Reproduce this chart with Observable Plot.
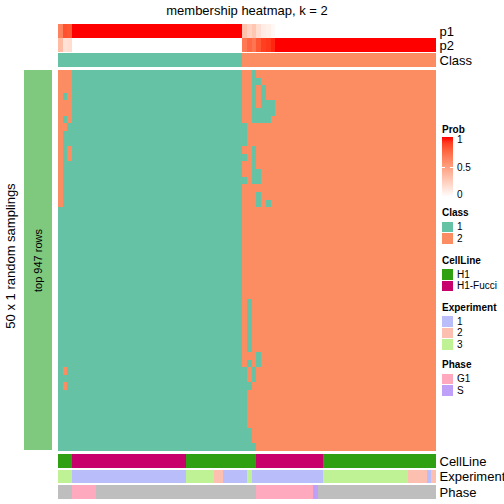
<!DOCTYPE html>
<html><head><meta charset="utf-8">
<script src="https://cdn.jsdelivr.net/npm/d3@7"></script>
<script src="https://cdn.jsdelivr.net/npm/@observablehq/plot@0.6"></script>
<style>
body{margin:0;background:#fff;}
#root{position:relative;width:504px;height:504px;overflow:hidden;font-family:"Liberation Sans",Arial,Helvetica,sans-serif;color:#000;}
.abs{position:absolute;}
.abs svg{display:block;}
</style></head><body><div id="root"></div>
<script>
// ---------------- data ----------------
const titleText = "membership heatmap, k = 2";
const rowTitle = "50 x 1 random samplings";
const rowAnnoLabel = "top 947 rows";

const classNames = ["1", "2"];
const classColors = ["#66C2A5", "#FC8D62"];
const classRuns = [["1", 39], ["2", 41]];

// membership probabilities per column (80 columns)
const p1 = [0.64, 0.84, 0.82,
  1,1,1,1,1,1,1,1,1,1, 1,1,1,1,1,1,1,1,1,1, 1,1,1,1,1,1,1,1,1,1, 1,1,1,1,1,1,
  0.32, 0.24, 0.30, 0.18, 0.10, 0.08, 0.04,
  0,0,0,0,0,0,0,0,0,0, 0,0,0,0,0,0,0,0,0,0, 0,0,0,0,0,0,0,0,0,0, 0,0,0,0];
const p2 = [0.36, 0.16, 0.18,
  0,0,0,0,0,0,0,0,0,0, 0,0,0,0,0,0,0,0,0,0, 0,0,0,0,0,0,0,0,0,0, 0,0,0,0,0,0,
  0.68, 0.76, 0.70, 0.82, 0.90, 0.92, 0.96,
  1,1,1,1,1,1,1,1,1,1, 1,1,1,1,1,1,1,1,1,1, 1,1,1,1,1,1,1,1,1,1, 1,1,1,1];

// class assignment of each column in each of the 50 samplings
const L = "111111111111111111111111111111111111";   // columns 3-38
const R = "2222222222222222222222222222222222";     // columns 46-79
const mainRows = [
  "222"+L+"2212222"+R, "222"+L+"2211222"+R, "222"+L+"2212122"+R, "212"+L+"2212122"+R,
  "222"+L+"2212111"+R, "222"+L+"2211111"+R, "212"+L+"2211112"+R, "221"+L+"1222222"+R,
  "211"+L+"1222222"+R, "211"+L+"1222222"+R, "212"+L+"2212222"+R, "212"+L+"1212222"+R,
  "211"+L+"2212222"+R, "211"+L+"2211222"+R, "211"+L+"1211222"+R, "211"+L+"2222222"+R,
  "211"+L+"2221222"+R, "211"+L+"2221212"+R,
  "111"+L+"2222222"+R, "111"+L+"2222222"+R, "111"+L+"2222222"+R, "111"+L+"2222222"+R,
  "111"+L+"2222222"+R, "111"+L+"2222222"+R, "111"+L+"2222222"+R, "111"+L+"2222222"+R,
  "111"+L+"2222222"+R, "111"+L+"2222222"+R, "111"+L+"2222222"+R, "111"+L+"2222222"+R,
  "111"+L+"2122222"+R, "111"+L+"2122222"+R, "111"+L+"2122222"+R, "111"+L+"2122222"+R,
  "111"+L+"2122222"+R, "111"+L+"2122222"+R, "111"+L+"2122222"+R,
  "111"+L+"2221222"+R, "111"+L+"2121222"+R, "121"+L+"1212222"+R, "111"+L+"1212222"+R,
  "121"+L+"1122222"+R,
  "111"+L+"1222222"+R, "111"+L+"1222222"+R, "111"+L+"1222222"+R, "111"+L+"1222222"+R,
  "111"+L+"1222222"+R,
  "111"+L+"1122222"+R, "111"+L+"1122222"+R, "111"+L+"1112222"+R
];

const cellLineNames = ["H1", "H1-Fucci"];
const cellLineColors = ["#2FA012", "#C7006B"];
const cellLineRuns = [["H1", 3], ["H1-Fucci", 24], ["H1", 15], ["H1-Fucci", 14], ["H1", 24]];

const experimentNames = ["1", "2", "3"];
const experimentColors = ["#B9BDF9", "#FDBFB0", "#BEF294"];
const experimentRuns = [["3", 3], ["1", 24], ["3", 6], ["2", 2], ["1", 5], ["3", 1], ["1", 15], ["3", 18], ["2", 4], ["1", 1], ["2", 1]];

const phaseNames = ["G1", "S"];
const phaseColors = ["#FFA9BF", "#BEA0F8"];
const naColor = "#BEBEBE";
const phaseRuns = [[null, 3], ["G1", 5], [null, 34], ["G1", 12], ["S", 1], [null, 25]];

const probTicks = [0, 0.5, 1];
const rowAnnoColor = "#7FC97F";

// ---------------- build ----------------
mainRows.forEach((r, i) => { if (r.length !== 80) throw new Error("row " + i + " length " + r.length); });
const nCol = 80, nRow = mainRows.length;
const cols = d3.range(nCol);
const expand = runs => runs.flatMap(([v, n]) => Array(n).fill(v));
const classCol = expand(classRuns);
const cellLineCol = expand(cellLineRuns);
const expCol = expand(experimentRuns);
const phaseCol = expand(phaseRuns);

const root = document.getElementById("root");
const FONT = '"Liberation Sans", Arial, Helvetica, sans-serif';
const baseStyle = {background: "transparent", fontFamily: FONT, fontSize: "13px", color: "#000", overflow: "visible"};
function put(node, left, top) {
  const d = document.createElement("div");
  d.className = "abs"; d.style.left = left + "px"; d.style.top = top + "px";
  d.appendChild(node); root.appendChild(d); return d;
}
function label(str, x, y, {size = 13, weight = "normal", anchor = "start", rotate = 0} = {}) {
  const d = document.createElement("div");
  d.textContent = str;
  d.style.cssText = `position:absolute;left:${x}px;top:${y}px;font-size:${size}px;font-weight:${weight};line-height:1;white-space:nowrap;transform:translate(${anchor === "middle" ? "-50%" : "0"},-50%) rotate(${rotate}deg);`;
  root.appendChild(d);
}
const X0 = 58, W = 378, MR = 68;
const xScale = {type: "band", domain: cols, padding: 0, round: false, axis: null};

// probability rows
const probCells = cols.flatMap(c => [{row: "p1", col: c, value: p1[c]}, {row: "p2", col: c, value: p2[c]}]);
put(Plot.plot({
  width: W + MR, height: 28, marginLeft: 0, marginRight: MR, marginTop: 0, marginBottom: 0,
  style: baseStyle,
  x: xScale,
  y: {type: "band", domain: ["p1", "p2"], padding: 0, round: false, axis: "right", tickSize: 0, tickPadding: 3, label: null},
  color: {type: "linear", domain: [0, 1], range: ["white", "red"], interpolate: "lab"},
  marks: [Plot.cell(probCells, {x: "col", y: "row", fill: "value", inset: 0, shapeRendering: "crispEdges"})]
}), X0, 24);

// class row
const classCells = cols.map(c => ({row: "Class", col: c, cls: classCol[c]}));
put(Plot.plot({
  width: W + MR, height: 14, marginLeft: 0, marginRight: MR, marginTop: 0, marginBottom: 0,
  style: baseStyle,
  x: xScale,
  y: {type: "band", domain: ["Class"], padding: 0, round: false, axis: "right", tickSize: 0, tickPadding: 3, label: null},
  color: {type: "ordinal", domain: classNames, range: classColors},
  marks: [Plot.cell(classCells, {x: "col", y: "row", fill: "cls", inset: 0, shapeRendering: "crispEdges"})]
}), X0, 53);

// main heatmap
const mainCells = [];
mainRows.forEach((r, i) => cols.forEach(c => mainCells.push({row: i, col: c, cls: r[c]})));
put(Plot.plot({
  width: W, height: 381, margin: 0,
  style: baseStyle,
  x: xScale,
  y: {type: "band", domain: d3.range(nRow), padding: 0, round: false, axis: null},
  color: {type: "ordinal", domain: classNames, range: classColors},
  marks: [Plot.cell(mainCells, {x: "col", y: "row", fill: "cls", inset: 0, shapeRendering: "crispEdges"})]
}), X0, 70);

// bottom annotations
const clColor = new Map(cellLineNames.map((n, i) => [n, cellLineColors[i]]));
const exColor = new Map(experimentNames.map((n, i) => [n, experimentColors[i]]));
const phColor = new Map(phaseNames.map((n, i) => [n, phaseColors[i]]));
const bottomCells = cols.flatMap(c => [
  {row: "CellLine", col: c, color: clColor.get(cellLineCol[c])},
  {row: "Experiment", col: c, color: exColor.get(expCol[c])},
  {row: "Phase", col: c, color: phaseCol[c] == null ? naColor : phColor.get(phaseCol[c])}
]);
put(Plot.plot({
  width: W + MR, height: 45, marginLeft: 0, marginRight: MR, marginTop: 0, marginBottom: 0,
  style: baseStyle,
  x: xScale,
  y: {type: "band", domain: ["CellLine", "Experiment", "Phase"], paddingInner: 0.1, paddingOuter: 0, round: false, axis: "right", tickSize: 0, tickPadding: 3, label: null},
  color: {type: "identity"},
  marks: [Plot.cell(bottomCells, {x: "col", y: "row", fill: "color", inset: 0, shapeRendering: "crispEdges"})]
}), X0, 454);

// row annotation bar
put(Plot.plot({
  width: 28, height: 380, margin: 0,
  style: {...baseStyle, fontSize: "11px"},
  x: {type: "band", domain: [rowAnnoLabel], padding: 0, axis: null},
  y: {type: "band", domain: [rowAnnoLabel], padding: 0, axis: null},
  marks: [
    Plot.cell([rowAnnoLabel], {x: d => d, y: d => d, fill: rowAnnoColor, inset: 0}),
    Plot.text([rowAnnoLabel], {x: d => d, y: d => d, text: d => d, rotate: -90, fontSize: 11, fill: "#000"})
  ]
}), 24, 70);

// texts
label(titleText, 247, 10, {size: 13, anchor: "middle"});
label(rowTitle, 10, 256, {size: 13, anchor: "middle", rotate: -90});

// ---------------- legends ----------------
const LX = 442, SW = 10.7;
label("Prob", LX, 130, {size: 10, weight: "bold"});
const grad = document.createElement("div");
const interp = d3.interpolateLab("white", "red");
const stops = d3.range(0, 1.0001, 0.1).map(t => interp(t) + " " + (t * 100) + "%");
grad.style.cssText = `position:absolute;left:${LX}px;top:137px;width:${SW}px;height:60px;background:linear-gradient(to top, ${stops.join(",")});`;
root.appendChild(grad);
const probY = d3.scaleLinear().domain([0, 1]).range([195, 140]);
probTicks.forEach(t => {
  const y = probY(t);
  if (t > 0 && t < 1) {
    for (const dx of [0, SW - 2.5]) {
      const tk = document.createElement("div");
      tk.style.cssText = `position:absolute;left:${LX + dx}px;top:${y - 0.5}px;width:2.5px;height:1px;background:#fff;`;
      root.appendChild(tk);
    }
  }
  label(String(t), LX + 15, y, {size: 10});
});

function discreteLegend(title, names, colors, titleY) {
  label(title, LX, titleY, {size: 10, weight: "bold"});
  names.forEach((n, i) => {
    const y0 = titleY + 8.5 + i * 11.5;
    const sw = document.createElement("div");
    sw.style.cssText = `position:absolute;left:${LX}px;top:${y0}px;width:${SW}px;height:${SW}px;background:${colors[i]};`;
    root.appendChild(sw);
    label(n, LX + 15, y0 + SW / 2 + 0.5, {size: 10});
  });
}
discreteLegend("Class", classNames, classColors, 213);
discreteLegend("CellLine", cellLineNames, cellLineColors, 260.5);
discreteLegend("Experiment", experimentNames, experimentColors, 307.5);
discreteLegend("Phase", phaseNames, phaseColors, 365);
</script></body></html>
